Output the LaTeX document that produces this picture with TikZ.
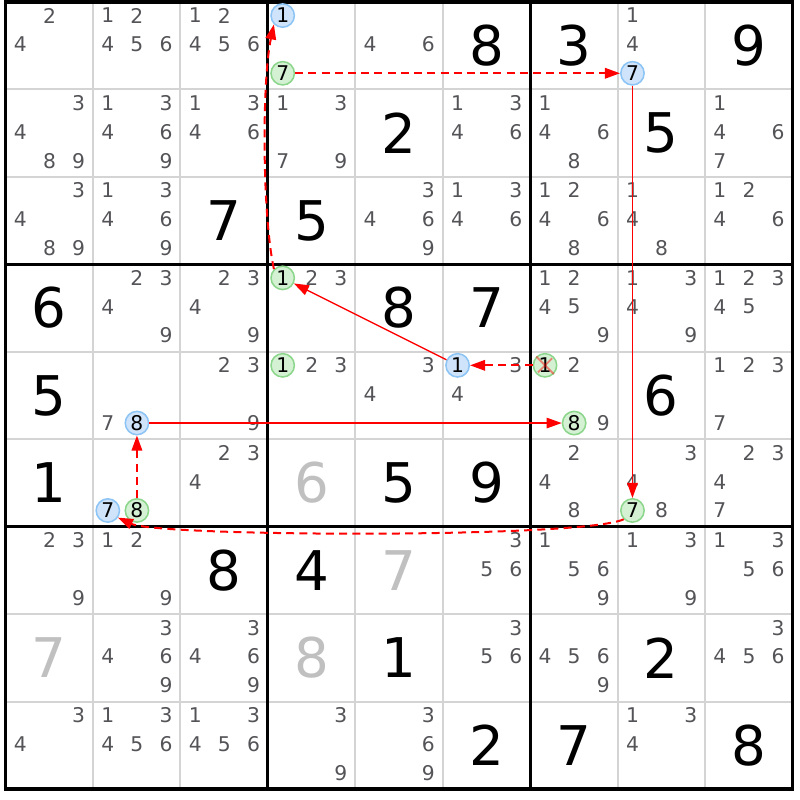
\documentclass[tikz,border=0pt]{standalone}
\usepackage{fontspec}
\setmainfont{DejaVu Sans}
\usetikzlibrary{arrows.meta}
\definecolor{cellgray}{RGB}{212,212,212}
\definecolor{candgray}{RGB}{84,84,88}
\definecolor{solvedgray}{RGB}{192,192,192}
\definecolor{bluefill}{RGB}{207,228,250}
\definecolor{bluedraw}{RGB}{140,196,245}
\definecolor{greenfill}{RGB}{212,241,212}
\definecolor{greendraw}{RGB}{140,214,140}

\begin{document}
\begin{tikzpicture}[x=1cm,y=1cm,
    cellline/.style={draw=cellgray,line width=0.65pt},
    boxline/.style={draw=black,line width=1pt},
    slot/.style n args={3}{at={({#2-1+0.17+0.333*mod(#3-1,3)},{-(#1-1)-0.155-0.33*int((#3-1)/3)})}},
    cand/.style={font=\fontsize{6.6}{8}\selectfont,text=candgray,inner sep=0pt},
    given/.style={font=\fontsize{17.8}{20}\selectfont,inner sep=0pt},
    solved/.style={given,text=solvedgray},
    bluecand/.style={cand,text=black,circle,minimum size=7.6pt,line width=0.5pt,fill=bluefill,draw=bluedraw},
    greencand/.style={bluecand,fill=greenfill,draw=greendraw},
    strong link/.style={-{Triangle[length=4.9pt,width=3.4pt]},red,line width=0.45pt},
    weak link/.style={strong link,line width=0.65pt,dash pattern=on 2.6pt off 1.7pt},
    elim/.style={draw=red,opacity=0.45,line width=0.6pt,shorten <=0.8pt,shorten >=0.8pt}]
\useasboundingbox (-0.063,0.023) rectangle (9.08,-9.126);

% grid
\foreach \i in {1,2,4,5,7,8}
  \draw[cellline] (\i,0) -- (\i,-9) (0,-\i) -- (9,-\i);
\foreach \i in {3,6}
  \draw[boxline] (\i,0) -- (\i,-9) (0,-\i) -- (9,-\i);
\draw[boxline,line width=1.1pt] (0,0) rectangle (9,-9);

% givens and solved cells
\foreach \r/\c/\d in {1/6/8,1/7/3,1/9/9,2/5/2,2/8/5,3/3/7,3/4/5,4/1/6,4/5/8,4/6/7,
    5/1/5,5/8/6,6/1/1,6/5/5,6/6/9,7/3/8,7/4/4,8/5/1,8/8/2,9/6/2,9/7/7,9/9/8}
  \node[given] (g\r\c) at (\c-0.5,-\r+0.5) {\d};
\foreach \r/\c/\d in {6/4/6,7/5/7,8/1/7,8/4/8}
  \node[solved] (s\r\c) at (\c-0.5,-\r+0.5) {\d};

% candidates
\foreach \r/\c/\l in {1/1/{2,4},1/2/{1,2,4,5,6},1/3/{1,2,4,5,6},1/5/{4,6},1/8/{1,4},
    2/1/{3,4,8,9},2/2/{1,3,4,6,9},2/3/{1,3,4,6},2/4/{1,3,7,9},2/6/{1,3,4,6},2/7/{1,4,6,8},2/9/{1,4,6,7},
    3/1/{3,4,8,9},3/2/{1,3,4,6,9},3/5/{3,4,6,9},3/6/{1,3,4,6},3/7/{1,2,4,6,8},3/8/{1,4,8},3/9/{1,2,4,6},
    4/2/{2,3,4,9},4/3/{2,3,4,9},4/4/{2,3},4/7/{1,2,4,5,9},4/8/{1,3,4,9},4/9/{1,2,3,4,5},
    5/2/{7},5/3/{2,3,9},5/4/{2,3},5/5/{3,4},5/6/{3,4},5/7/{2,9},5/9/{1,2,3,7},
    6/3/{2,3,4},6/7/{2,4,8},6/8/{3,4,8},6/9/{2,3,4,7},
    7/1/{2,3,9},7/2/{1,2,9},7/6/{3,5,6},7/7/{1,5,6,9},7/8/{1,3,9},7/9/{1,3,5,6},
    8/2/{3,4,6,9},8/3/{3,4,6,9},8/6/{3,5,6},8/7/{4,5,6,9},8/9/{3,4,5,6},
    9/1/{3,4},9/2/{1,3,4,5,6},9/3/{1,3,4,5,6},9/4/{3,9},9/5/{3,6,9},9/8/{1,3,4}}
  \foreach \k in \l
    \node[cand,slot={\r}{\c}{\k}] (r\r c\c n\k) {\k};

% chain
\node[bluecand,slot={1}{4}{1}] (r1c4n1) {1};
\node[greencand,slot={1}{4}{7}] (r1c4n7) {7};
\node[bluecand,slot={1}{8}{7}] (r1c8n7) {7};
\node[greencand,slot={4}{4}{1}] (r4c4n1) {1};
\node[greencand,slot={5}{4}{1}] (r5c4n1) {1};
\node[bluecand,slot={5}{2}{8}] (r5c2n8) {8};
\node[bluecand,slot={5}{6}{1}] (r5c6n1) {1};
\node[greencand,slot={5}{7}{1}] (r5c7n1) {1};
\node[greencand,slot={5}{7}{8}] (r5c7n8) {8};
\node[bluecand,slot={6}{2}{7}] (r6c2n7) {7};
\node[greencand,slot={6}{2}{8}] (r6c2n8) {8};
\node[greencand,slot={6}{8}{7}] (r6c8n7) {7};
\draw[elim] (r5c7n1.135) -- (r5c7n1.-45) (r5c7n1.45) -- (r5c7n1.-135);

\path[weak link] (r1c4n7) edge (r1c8n7);
\path[strong link] (r1c8n7) edge (r6c8n7);
\path[weak link] (r6c8n7.225) edge[out=205,in=-25,looseness=0.23] (r6c2n7.-35);
\path[weak link] (r6c2n8) edge (r5c2n8);
\path[strong link] (r5c2n8) edge (r5c7n8);
\path[weak link] (r5c7n1) edge (r5c6n1);
\path[strong link] (r5c6n1) edge (r4c4n1);
\path[weak link] (r4c4n1.135) edge[out=102,in=-102,looseness=0.6] (r1c4n1.225);
\end{tikzpicture}
\end{document}
